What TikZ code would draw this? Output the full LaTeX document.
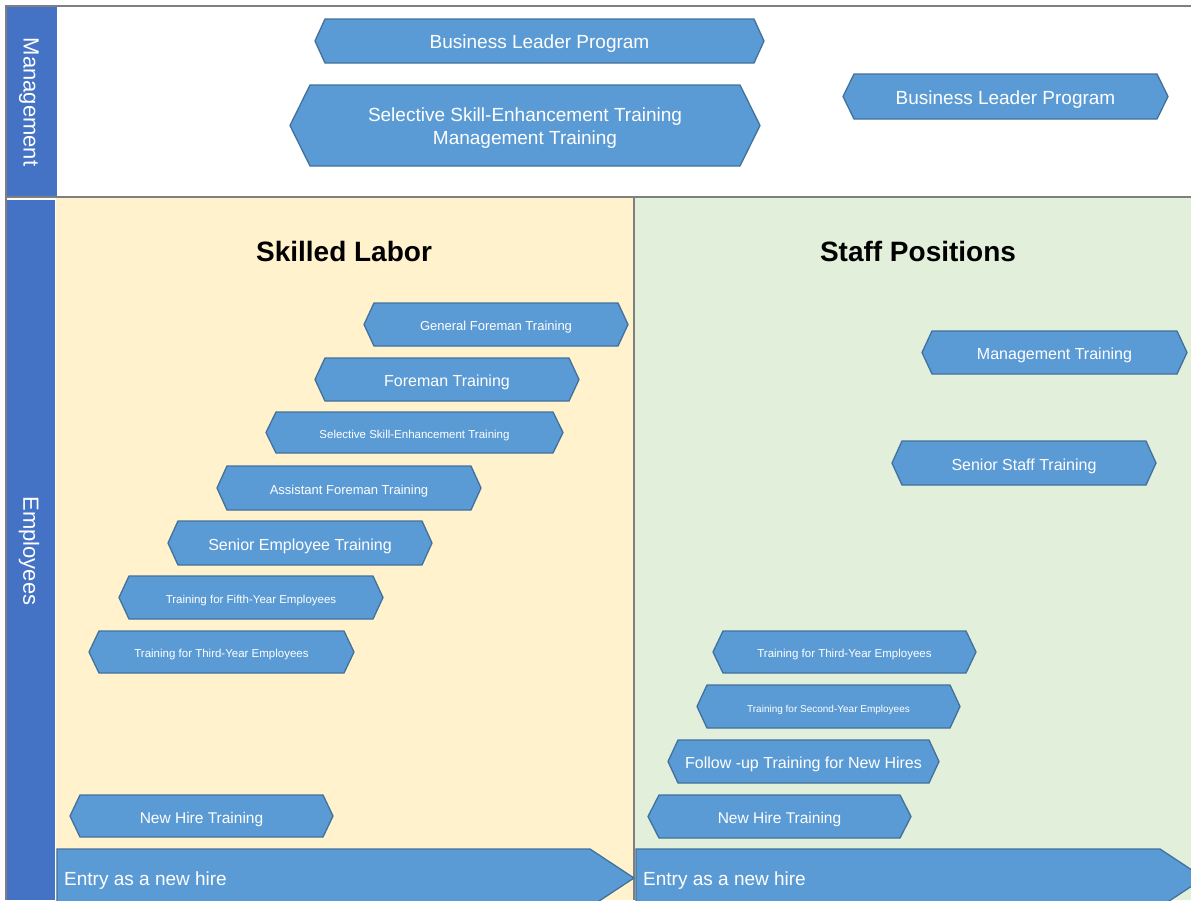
\documentclass[tikz,border=0pt]{standalone}
\usepackage{fontspec}
\setmainfont{Liberation Sans}
\definecolor{hexfill}{HTML}{5B9BD5}
\definecolor{hexedge}{HTML}{41719C}
\definecolor{barblue}{HTML}{4472C4}
\definecolor{laneyellow}{HTML}{FFF2CC}
\definecolor{lanegreen}{HTML}{E2EFDA}
\definecolor{framegray}{HTML}{7F7F7F}
% #1 name, #2 left tip x, #3 right tip x, #4 top y, #5 bottom y, #6 slant, #7 font size, #8 text
\newcommand\hexa[8]{%
  \path[hexshape] ({#2},{(#4+#5)/2}) -- ({#2+#6},{#4}) -- ({#3-#6},{#4}) -- ({#3},{(#4+#5)/2}) -- ({#3-#6},{#5}) -- ({#2+#6},{#5}) -- cycle;
  \node[hextext, font=\fontsize{#7}{#7}\selectfont] (#1) at ({(#2+#3)/2},{(#4+#5)/2}) {#8};
}
\begin{document}
\begin{tikzpicture}[x=1pt,y=-1pt,
  hexshape/.style={fill=hexfill, draw=hexedge, line width=1.3pt, line join=miter},
  hextext/.style={text=white, inner sep=0pt, align=center, yshift=-3pt},
  frameline/.style={draw=framegray, line width=2pt},
  lanetitle/.style={font=\bfseries\fontsize{28}{34}\selectfont, text=black, inner sep=0pt},
  sidelabel/.style={rotate=-90, text=white, font=\fontsize{22}{26}\selectfont, inner sep=0pt}]
\clip (0,0) rectangle (1191,900);
\fill[white] (0,0) rectangle (1191,900);
% lanes
\fill[laneyellow] (56,198) rectangle (634,900);
\fill[lanegreen] (634,198) rectangle (1191,900);
% side bar
\fill[barblue] (7,7) rectangle (57,197);
\fill[barblue] (7,200) rectangle (55,900);
\fill[white] (7,198) rectangle (55,200);
% frame lines
\draw[frameline] (6,6) -- (1191,6);
\draw[frameline] (6,5) -- (6,900);
\draw[frameline] (6,197) -- (1191,197);
\draw[frameline] (634,198) -- (634,900);
% side labels
\node[sidelabel] (mgmt) at (29,102) {Management};
\node[sidelabel] (empl) at (29,551) {Employees};
% lane titles
\node[lanetitle] (skilled) at (344,251) {Skilled Labor};
\node[lanetitle] (staff) at (918,251) {Staff Positions};
% management
\hexa{blpA}{315}{764}{19}{63}{10}{19}{Business Leader Program}
\path[hexshape] (290,125.5) -- (310,85) -- (740,85) -- (760,125.5) -- (740,166) -- (310,166) -- cycle;
\node[hextext, font=\fontsize{19}{23}\selectfont] (selmgmt) at (525,125.5) {Selective Skill-Enhancement Training\\Management Training};
\hexa{blpB}{843}{1168}{74}{119}{11}{19}{Business Leader Program}
% skilled labor
\hexa{gft}{364}{628}{303}{346}{10}{13}{General Foreman Training}
\hexa{ft}{315}{579}{358}{401}{10}{16}{Foreman Training}
\hexa{sset}{266}{563}{412}{453}{10}{11.5}{Selective Skill-Enhancement Training}
\hexa{aft}{217}{481}{466}{510}{10}{13}{Assistant Foreman Training}
\hexa{set}{168}{432}{521}{565}{10}{16}{Senior Employee Training}
\hexa{tfy}{119}{383}{576}{619}{10}{11.5}{Training for Fifth-Year Employees}
\hexa{ttyA}{89}{354}{631}{673}{10}{11.5}{Training for Third-Year Employees}
\hexa{nhtA}{70}{333}{795}{837}{10}{15.5}{New Hire Training}
% staff positions
\hexa{mt}{922}{1187}{331}{374}{10}{16}{Management Training}
\hexa{sst}{892}{1156}{441}{485}{10}{16}{Senior Staff Training}
\hexa{ttyB}{713}{976}{631}{673}{10}{11.5}{Training for Third-Year Employees}
\hexa{tsy}{697}{960}{685}{728}{10}{10}{Training for Second-Year Employees}
\hexa{fu}{668}{939}{740}{783}{10}{16}{Follow -up Training for New Hires}
\hexa{nhtB}{648}{911}{795}{838}{11}{15.5}{New Hire Training}
% entry arrows
\path[hexshape] (57,849) -- (590,849) -- (634,878) -- (590,907) -- (57,907) -- cycle;
\node[hextext, anchor=west, font=\fontsize{19}{23}\selectfont] (entryA) at (64,878) {Entry as a new hire};
\path[hexshape] (636,849) -- (1160,849) -- (1204,878) -- (1160,907) -- (636,907) -- cycle;
\node[hextext, anchor=west, font=\fontsize{19}{23}\selectfont] (entryB) at (643,878) {Entry as a new hire};
\end{tikzpicture}
\end{document}
